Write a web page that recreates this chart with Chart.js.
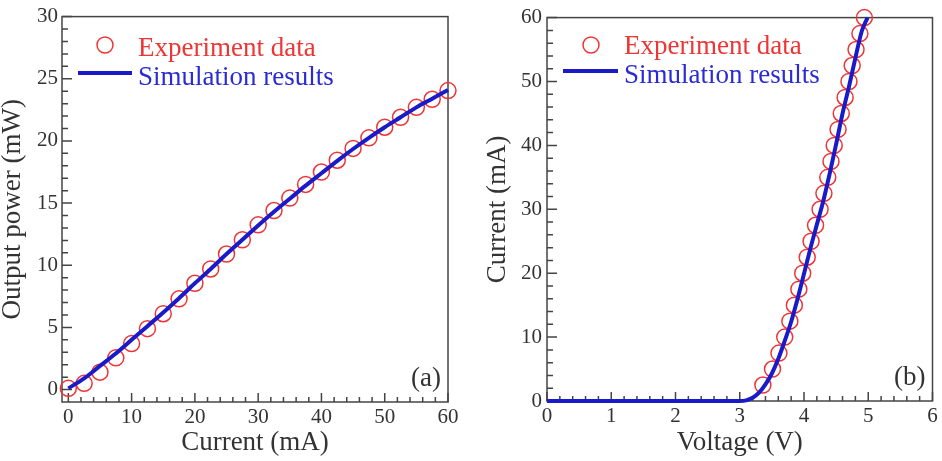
<!DOCTYPE html>
<html>
<head>
<meta charset="utf-8">
<script src="https://cdn.jsdelivr.net/npm/chart.js@4/dist/chart.umd.min.js"></script>
<style>
html,body{margin:0;padding:0;background:#fff;overflow:hidden}
#wrap{position:relative;width:942px;height:461px;background:#fff}
canvas{position:absolute;top:0}
#c1{left:0}
#c2{left:470px}
</style>
</head>
<body>
<div id="wrap">
<canvas id="c1" width="470" height="461"></canvas>
<canvas id="c2" width="472" height="461"></canvas>
</div>
<script>
// ---------- Panel (a): output power vs current ----------
const expCurrentA = [0,2.5,5,7.5,10,12.5,15,17.5,20,22.5,25,27.5,30,32.5,35,37.5,40,42.5,45,47.5,50,52.5,55,57.5,60];
const expPowerA   = [0.1,0.5,1.4,2.55,3.7,4.9,6.1,7.3,8.55,9.7,10.9,12.05,13.25,14.4,15.4,16.5,17.5,18.45,19.4,20.25,21.1,21.9,22.7,23.35,24.05];
const simCurrentA = [0,2.5,5,7.5,10,12.5,15,17.5,20,22.5,25,27.5,30,32.5,35,37.5,40,42.5,45,47.5,50,52.5,55,57.5,60];
const simPowerA   = [0.1,0.9,1.9,2.9,4.0,5.1,6.2,7.35,8.55,9.7,10.9,12.05,13.2,14.3,15.35,16.4,17.4,18.4,19.35,20.25,21.1,21.9,22.7,23.4,24.1];
const xTicksA = [0,10,20,30,40,50,60];
const yTicksA = [0,5,10,15,20,25,30];

// ---------- Panel (b): current vs voltage ----------
const expVoltageB = [3.36,3.51,3.61,3.70,3.78,3.85,3.92,3.98,4.05,4.11,4.18,4.25,4.31,4.37,4.42,4.47,4.53,4.58,4.64,4.70,4.75,4.81,4.87,4.94];
const expCurrentB = [2.5,5,7.5,10,12.5,15,17.5,20,22.5,25,27.5,30,32.5,35,37.5,40,42.5,45,47.5,50,52.5,55,57.5,60];
const simVoltageB = [0,1,2,3.0,3.1,3.2,3.3,3.4,3.5,3.6,3.7,3.8,3.9,4.0,4.1,4.2,4.3,4.4,4.5,4.6,4.7,4.8,4.9,4.99];
const simCurrentB = [0,0,0,0,0.1,0.5,1.3,2.6,4.3,6.6,9.4,12.4,16.0,19.9,23.9,27.6,31.3,35.6,40.2,45.0,49.2,53.7,57.9,60];
const xTicksB = [0,1,2,3,4,5,6];
const yTicksB = [0,10,20,30,40,50,60];

const FONT = "'Liberation Serif', 'Times New Roman', serif";
const RED = '#ee3535';
const BLUE = '#1a1ac8';
const BLUE_TEXT = '#2b2bd6';
const AXIS = '#444';
const TEXT = '#333';

function pts(xs, ys){ return xs.map((x,i)=>({x:x, y:ys[i]})); }

function minorValues(majors, n){
  const out=[];
  for(let i=0;i<majors.length-1;i++){
    const a=majors[i], b=majors[i+1];
    for(let k=1;k<n;k++) out.push(a+(b-a)*k/n);
  }
  return out;
}

function framePlugin(cfg){
  return {
    id:'frame_'+cfg.name,
    beforeDatasetsDraw(chart){
      const ctx=chart.ctx, a=chart.chartArea, xs=chart.scales.x, ys=chart.scales.y;
      ctx.save();
      ctx.strokeStyle=AXIS; ctx.lineWidth=1.5;
      ctx.beginPath();
      cfg.xMajor.forEach(v=>{const p=xs.getPixelForValue(v); ctx.moveTo(p,a.bottom); ctx.lineTo(p,a.bottom-9);});
      minorValues(cfg.xMajor,5).forEach(v=>{const p=xs.getPixelForValue(v); ctx.moveTo(p,a.bottom); ctx.lineTo(p,a.bottom-5);});
      cfg.yMajor.forEach(v=>{const p=ys.getPixelForValue(v); ctx.moveTo(a.left,p); ctx.lineTo(a.left+10,p);});
      minorValues(cfg.yMajor,5).forEach(v=>{const p=ys.getPixelForValue(v); ctx.moveTo(a.left,p); ctx.lineTo(a.left+6,p);});
      ctx.stroke();
      ctx.strokeRect(a.left,a.top,a.right-a.left,a.bottom-a.top);
      ctx.restore();
    },
    afterDraw(chart){
      const ctx=chart.ctx, a=chart.chartArea;
      const L=cfg.legend;
      ctx.save();
      // legend: experiment marker
      ctx.strokeStyle=RED; ctx.lineWidth=1.5;
      ctx.beginPath(); ctx.arc(L.mx, L.my1, 8, 0, Math.PI*2); ctx.stroke();
      // legend: simulation line
      ctx.strokeStyle=BLUE; ctx.lineWidth=4;
      ctx.beginPath(); ctx.moveTo(L.lx1, L.my2); ctx.lineTo(L.lx2, L.my2); ctx.stroke();
      ctx.font='27px '+FONT;
      ctx.textAlign='left'; ctx.textBaseline='alphabetic';
      ctx.fillStyle=RED; ctx.fillText('Experiment data', L.tx, L.b1);
      ctx.fillStyle=BLUE_TEXT; ctx.fillText('Simulation results', L.tx, L.b2);
      // panel label
      ctx.fillStyle=TEXT; ctx.textAlign='right'; ctx.textBaseline='alphabetic';
      ctx.fillText(cfg.panel, a.right-7, a.bottom-16);
      ctx.restore();
    }
  };
}

function makeScales(o){
  return {
    x:{
      type:'linear', min:o.xmin, max:o.xmax,
      afterBuildTicks:s=>{s.ticks=o.xTicks.map(v=>({value:v}));},
      afterFit:s=>{s.height=o.xh;},
      ticks:{autoSkip:false,maxRotation:0,minRotation:0,padding:3,color:TEXT,font:{family:FONT,size:21},callback:v=>String(v)},
      grid:{display:false,drawTicks:false},
      border:{display:false},
      title:{display:true,text:o.xTitle,color:TEXT,font:{family:FONT,size:27,lineHeight:1},padding:{top:0,bottom:5}}
    },
    y:{
      type:'linear', min:o.ymin, max:o.ymax,
      afterBuildTicks:s=>{s.ticks=o.yTicks.map(v=>({value:v}));},
      afterFit:s=>{s.width=o.yw;},
      ticks:{autoSkip:false,padding:o.ypad,color:TEXT,font:{family:FONT,size:21},callback:v=>String(v)},
      grid:{display:false,drawTicks:false},
      border:{display:false},
      title:{display:true,text:o.yTitle,color:TEXT,font:{family:FONT,size:27,lineHeight:1},padding:{top:o.ytp,bottom:0}}
    }
  };
}

function datasets(simX, simY, expX, expY){
  return [
    {label:'Simulation results', data:pts(simX,simY), showLine:true, borderColor:BLUE, borderWidth:4,
     pointRadius:0, pointHoverRadius:0, cubicInterpolationMode:'monotone', clip:false, backgroundColor:BLUE},
    {label:'Experiment data', data:pts(expX,expY), showLine:false, pointStyle:'circle', pointRadius:8,
     pointBorderWidth:1.5, pointBorderColor:RED, pointBackgroundColor:'rgba(0,0,0,0)', clip:false}
  ];
}

new Chart(document.getElementById('c1'), {
  type:'scatter',
  data:{datasets:datasets(simCurrentA, simPowerA, expCurrentA, expPowerA)},
  options:{
    responsive:false, animation:false, devicePixelRatio:1,
    layout:{padding:{left:0,top:15,right:22,bottom:0}},
    plugins:{legend:{display:false},tooltip:{enabled:false}},
    scales:makeScales({xmin:-1,xmax:60,ymin:-1,ymax:30,xTicks:xTicksA,yTicks:yTicksA,xh:59,yw:62,ypad:4,ytp:-1,
      xTitle:'Current (mA)', yTitle:'Output power (mW)'})
  },
  plugins:[framePlugin({name:'a',xMajor:xTicksA,yMajor:yTicksA,panel:'(a)',
    legend:{mx:105,my1:45,lx1:78,lx2:132,my2:73,tx:138,b1:56,b2:85}})]
});

new Chart(document.getElementById('c2'), {
  type:'scatter',
  data:{datasets:datasets(simVoltageB, simCurrentB, expVoltageB, expCurrentB)},
  options:{
    responsive:false, animation:false, devicePixelRatio:1,
    layout:{padding:{left:0,top:15,right:9,bottom:0}},
    plugins:{legend:{display:false},tooltip:{enabled:false}},
    scales:makeScales({xmin:0,xmax:6,ymin:0,ymax:60,xTicks:xTicksB,yTicks:yTicksB,xh:60,yw:77,ypad:5,ytp:14,
      xTitle:'Voltage (V)', yTitle:'Current (mA)'})
  },
  plugins:[framePlugin({name:'b',xMajor:xTicksB,yMajor:yTicksB,panel:'(b)',
    legend:{mx:121,my1:45,lx1:93,lx2:148,my2:71,tx:154,b1:54,b2:83}})]
});
</script>
</body>
</html>
